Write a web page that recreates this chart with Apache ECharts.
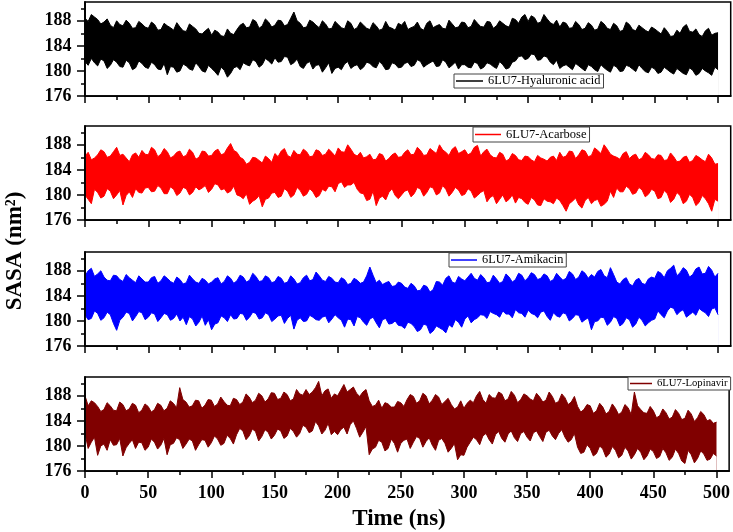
<!DOCTYPE html>
<html><head><meta charset="utf-8">
<script src="https://cdn.jsdelivr.net/npm/echarts@6/dist/echarts.min.js"></script>
<style>html,body{margin:0;padding:0;background:#fff}#c{width:733px;height:532px}</style>
</head><body><div id="c"></div><script>
// envelope samples: main arrays at 0,5,...,500 ns; "Mid" arrays at 2.5,7.5,...,497.5 ns
const timeStep = 5;
const xTickLabels = [0,50,100,150,200,250,300,350,400,450,500];
const xMinorTicks = [25,75,125,175,225,275,325,375,425,475];
const yTickLabels = [176,180,184,188];
const yMinorTicks = [178,182,186,190];
const seriesNames = ['6LU7-Hyaluronic acid','6LU7-Acarbose','6LU7-Amikacin','6LU7-Lopinavir'];
const seriesColors = ['#000000','#ff0000','#0000ff','#800000'];

// ---- 6LU7-Hyaluronic acid (upper / lower envelope, nm^2)
const hiHA = [188.4,189.0,188.2,187.8,187.3,188.0,187.2,187.6,186.9,187.5,
186.8,187.4,186.6,187.2,186.5,187.0,186.3,187.1,186.0,186.4,
185.7,186.2,185.5,186.0,186.6,187.6,187.0,187.9,187.2,187.8,
187.3,188.0,187.4,189.4,187.6,187.0,187.8,186.9,187.5,186.8,
187.4,186.7,187.6,186.9,187.3,186.6,187.2,186.7,187.0,186.5,
187.3,186.6,187.1,186.8,187.6,186.9,187.4,186.7,187.5,187.0,
187.7,187.1,187.6,187.0,187.8,187.2,187.6,187.0,188.2,188.6,
187.9,188.5,187.8,188.3,187.4,187.0,187.6,186.9,187.4,186.8,
187.3,186.7,187.5,186.6,187.2,186.5,187.4,186.4,186.9,186.2,
186.7,185.9,186.3,185.6,186.0,187.4,186.2,185.8,186.4,185.7,
186.1];
const hiHAMid = [187.9,188.6,187.5,188.3,186.9,187.4,188.1,186.8,187.9,187.0,
187.8,186.5,187.6,186.9,187.7,186.4,187.5,186.7,185.9,186.8,
186.5,185.6,186.7,185.8,187.3,186.9,188.2,186.8,188.3,187.0,
188.1,187.2,188.4,188.0,186.9,188.1,187.3,188.0,186.7,187.9,
186.9,188.0,186.6,187.8,186.8,187.7,186.5,187.9,186.8,187.6,
187.9,186.9,187.8,186.5,188.0,187.2,186.8,188.1,186.9,187.8,
186.9,188.2,187.1,187.9,186.8,188.0,187.2,188.4,187.6,189.0,
188.8,187.6,189.0,187.7,188.1,187.8,186.8,187.9,186.6,187.7,
186.5,187.9,186.8,187.6,186.3,187.8,186.6,187.3,186.5,187.0,
186.3,186.9,185.5,186.5,187.0,186.3,186.7,185.5,186.8,186.0];
const loHA = [181.5,182.0,180.8,181.6,180.9,181.4,180.6,181.3,180.5,181.2,
180.4,181.0,180.2,179.4,180.6,180.0,180.8,180.1,180.7,179.8,
180.4,179.3,180.1,179.6,180.7,181.3,180.8,181.5,181.0,181.6,
182.1,181.5,182.2,181.3,180.7,181.2,180.3,181.0,180.5,179.6,
180.6,181.1,180.4,181.0,180.6,181.2,180.5,181.0,180.3,181.1,
180.6,181.4,180.9,181.5,181.0,181.6,180.8,181.4,180.9,180.3,
181.0,180.5,181.2,180.6,181.1,180.4,181.0,180.5,181.6,182.4,
182.0,182.6,181.8,182.2,181.0,180.4,181.0,180.2,180.8,180.0,
180.7,179.9,180.5,179.8,180.6,180.0,180.7,179.9,180.4,179.7,
180.3,179.8,180.2,179.5,180.0,179.4,180.1,179.6,180.0,179.3,
180.2];
const loHAMid = [180.9,181.3,181.9,180.4,181.8,180.7,181.7,180.2,181.6,180.6,
181.4,180.3,181.2,180.7,179.8,181.1,180.3,181.3,180.0,180.9,
179.9,180.6,179.0,180.5,180.2,181.0,181.8,180.6,182.0,181.1,
181.4,182.3,181.0,181.9,180.4,181.5,180.9,179.8,181.3,180.4,
180.2,181.5,180.8,180.2,181.4,180.7,181.5,180.2,181.3,180.5,
181.2,180.7,181.8,180.6,181.3,180.7,181.8,180.5,181.4,181.0,
180.6,181.4,180.3,181.3,180.7,181.5,180.3,181.4,182.3,181.8,
182.7,181.7,182.4,181.4,181.7,180.8,180.6,181.2,180.4,181.0,
180.2,181.0,180.1,180.9,179.9,180.9,180.3,181.0,179.9,180.6,
179.6,180.6,179.8,180.4,179.6,180.5,179.3,180.4,179.7,180.6];

// ---- 6LU7-Acarbose
const hiAC = [186.2,185.6,186.4,186.9,186.2,187.6,186.5,185.3,186.7,187.1,
186.4,187.2,186.5,186.9,186.2,187.0,186.3,186.8,186.0,186.9,
186.3,187.3,186.6,188.2,186.8,185.7,185.2,185.9,185.1,185.8,
186.6,187.0,186.3,187.1,186.4,186.9,186.2,187.0,186.5,186.8,
187.5,186.8,187.3,186.2,185.9,186.5,185.7,186.4,185.8,186.7,
186.1,187.2,186.5,187.1,186.4,187.0,188.0,186.8,187.3,186.6,
187.2,186.7,187.9,186.9,186.4,185.9,186.5,185.7,186.3,185.5,
186.1,185.3,185.9,185.4,186.2,186.8,186.2,186.9,186.4,187.0,
186.3,187.1,188.0,186.5,186.0,186.6,185.8,186.5,185.9,186.4,
185.7,186.3,185.6,186.1,185.4,186.2,185.5,186.0,185.3,185.9,
185.0];
const hiACMid = [186.8,185.9,187.2,186.0,186.9,186.3,185.9,186.4,186.0,186.5,
187.6,186.1,187.4,185.9,186.8,186.1,187.3,185.7,187.0,186.2,
187.0,186.4,187.5,187.1,186.0,184.9,186.0,185.5,186.2,185.2,
186.1,187.4,186.0,186.5,187.3,186.1,187.2,186.3,187.3,186.2,
186.9,188.0,186.5,186.8,186.1,185.6,186.6,185.4,186.4,186.0,
186.8,186.4,187.6,186.3,187.4,186.6,187.2,186.3,187.7,186.9,
186.4,187.6,186.2,187.3,186.0,186.8,185.4,186.6,185.6,186.2,
185.6,186.3,185.7,186.0,185.5,186.0,187.0,185.8,187.2,186.1,
187.5,186.6,187.3,186.2,185.7,186.9,186.3,185.6,186.8,185.8,
186.4,185.5,186.7,185.3,186.0,185.2,186.3,185.6,186.5,184.9];
const loAC = [180.0,178.6,180.4,179.8,180.6,180.0,178.4,180.5,181.0,180.3,
181.2,180.6,181.1,180.2,180.9,180.3,181.0,180.4,180.8,181.5,
180.9,181.6,181.0,180.6,180.0,179.4,178.5,179.3,178.1,179.5,
180.4,179.8,180.6,180.0,180.7,180.1,180.5,179.9,180.6,181.3,
181.8,181.2,181.6,180.9,180.2,179.3,178.3,179.8,180.4,179.9,
180.0,180.8,180.2,180.9,180.4,181.1,180.3,180.9,180.4,180.8,
180.1,180.6,179.9,180.7,179.6,178.6,180.0,179.3,178.7,179.4,
178.5,179.2,178.3,179.0,178.6,179.1,177.4,179.0,178.4,179.1,
178.6,179.3,178.5,180.6,181.1,180.5,181.0,180.3,180.8,180.1,
180.6,179.6,180.2,179.3,179.9,179.0,179.6,178.8,179.4,177.4,
179.0];
const loACMid = [179.3,180.9,179.5,181.0,179.4,180.7,179.9,179.6,180.4,181.1,
180.5,181.5,180.2,181.3,179.9,181.2,180.0,181.3,181.1,180.4,
181.8,180.8,180.3,181.4,179.8,180.2,179.0,179.9,179.3,180.3,
179.6,181.0,179.6,181.2,179.8,181.0,179.6,180.9,181.4,180.5,
182.1,181.6,182.0,180.3,179.1,180.6,179.5,179.2,181.0,179.4,
180.6,179.7,181.2,179.8,181.3,180.0,181.5,179.8,181.2,179.9,
181.0,179.5,180.4,178.9,179.9,179.3,178.9,180.0,179.6,178.8,
179.6,178.4,179.4,178.9,179.5,178.3,178.6,179.5,177.9,179.6,
179.1,178.2,179.0,179.6,180.5,181.4,180.1,181.2,179.7,180.9,
179.4,180.7,178.8,180.4,178.6,180.1,178.3,179.9,178.6,179.3];

// ---- 6LU7-Amikacin
const hiAM = [187.2,188.4,187.5,187.0,186.4,187.2,186.3,186.9,186.1,186.7,
186.2,187.1,186.4,186.8,186.0,186.6,186.1,186.7,186.0,186.5,
186.2,186.9,186.3,186.8,186.4,187.0,186.5,187.1,186.4,186.9,
186.3,186.8,186.2,186.7,186.1,187.3,186.6,187.2,186.3,186.8,
186.1,186.6,186.0,186.5,186.2,188.6,186.1,185.8,186.3,185.6,
186.0,185.2,185.6,184.9,185.5,185.0,186.2,186.8,186.2,187.1,
186.4,187.6,186.5,186.9,186.2,186.7,186.3,187.0,186.6,187.3,
186.9,187.4,186.8,187.2,186.6,187.0,186.8,187.5,187.0,187.6,
187.4,187.9,187.2,188.5,186.2,186.6,185.9,186.5,186.0,186.7,
186.8,187.6,188.0,188.9,187.7,188.1,187.4,188.6,187.6,188.1,
187.6];
const hiAMMid = [188.0,187.1,188.0,186.5,187.3,186.6,187.4,186.5,187.2,186.2,
186.9,186.0,187.2,186.3,187.0,185.9,187.3,186.2,186.8,185.9,
186.7,185.9,187.2,186.0,187.3,186.2,187.6,186.3,187.2,186.1,
187.1,186.0,187.2,185.9,186.9,186.4,187.8,186.5,187.1,186.2,
186.9,185.8,186.8,186.0,187.2,187.3,186.5,186.1,185.5,186.2,
185.4,186.0,184.8,185.7,184.6,186.3,185.7,187.2,186.0,186.7,
187.0,186.8,187.4,186.1,187.3,186.0,187.5,186.2,187.6,186.4,
187.7,186.6,187.5,186.3,187.6,186.5,187.9,186.6,188.0,186.8,
187.0,188.2,186.9,187.4,185.9,186.9,185.6,186.8,185.8,187.0,
187.9,186.9,188.4,187.2,188.5,187.0,188.3,187.5,188.7,187.0];
const loAM = [181.0,180.4,181.2,180.5,181.0,178.5,180.6,181.2,180.7,181.3,
180.6,181.1,180.5,181.0,180.4,180.0,179.4,180.3,179.8,179.3,
178.6,179.7,180.5,181.0,180.4,181.1,180.6,181.2,180.5,181.0,
180.3,180.9,180.4,178.7,180.5,180.0,180.6,180.1,180.8,180.3,
180.5,179.0,180.2,180.7,179.8,180.3,179.7,180.2,179.5,180.0,
179.2,179.8,179.1,178.6,179.3,178.4,178.9,178.1,179.0,179.8,
180.3,179.7,180.5,180.9,181.5,181.0,181.6,181.1,181.8,181.2,
181.7,181.0,181.4,180.7,181.3,180.6,181.1,180.4,180.9,180.2,
178.6,180.0,180.5,179.8,180.4,179.6,180.2,179.5,180.1,179.7,
180.3,181.0,181.6,182.0,181.5,180.6,181.4,182.0,181.3,181.9,
181.0];
const loAMMid = [180.2,181.6,180.1,181.4,179.6,180.1,181.4,180.0,181.5,180.2,
181.3,179.9,181.2,180.1,181.1,180.6,180.7,179.2,180.8,180.2,
179.5,180.8,179.9,180.3,181.2,180.1,181.4,180.3,181.3,179.9,
180.8,179.6,180.9,180.1,179.9,180.9,180.2,180.6,179.7,181.0,
180.1,180.3,179.2,180.5,179.3,180.6,178.9,180.4,179.6,179.3,
178.8,179.6,178.3,179.5,178.0,179.2,178.6,179.4,180.2,179.0,
180.8,180.2,181.0,180.4,181.2,180.6,181.1,180.5,181.3,180.6,
181.2,180.5,181.6,180.1,180.8,181.3,180.0,181.0,179.8,180.5,
179.9,180.6,179.3,180.7,179.2,180.5,179.0,180.6,179.2,180.1,
181.6,180.5,182.2,181.0,181.8,181.0,180.9,181.6,180.7,182.1];

// ---- 6LU7-Lopinavir
const hiLP = [188.0,187.2,186.3,185.8,186.4,185.6,186.6,185.9,186.5,185.7,
186.3,185.8,186.5,186.0,186.8,189.3,187.0,186.4,187.2,186.5,
187.3,186.7,187.1,186.4,187.4,187.0,187.8,187.3,188.0,187.5,
188.4,187.6,188.2,187.5,188.3,189.0,188.6,190.3,188.8,187.6,
188.0,189.8,189.0,188.4,188.6,187.2,186.5,186.0,186.7,186.2,
186.9,187.4,187.9,187.2,188.0,187.3,187.8,187.1,186.6,186.2,
186.0,187.3,188.0,187.4,188.2,187.6,188.3,187.5,188.1,187.4,
188.0,187.2,187.8,187.3,187.9,187.1,187.7,187.0,186.3,185.8,
186.4,185.6,186.2,185.5,186.0,185.4,186.1,188.6,185.8,185.2,
185.6,184.8,185.3,184.6,185.2,184.4,185.1,184.5,185.0,184.2,
183.8];
const hiLPMid = [186.4,186.9,185.5,186.9,185.7,187.0,185.6,186.8,185.3,186.7,
185.4,186.8,185.6,187.2,186.1,187.4,186.2,187.3,186.0,187.4,
186.3,187.8,186.5,187.6,186.6,188.3,186.9,188.4,187.0,188.5,
187.4,188.6,187.2,189.0,188.1,188.2,189.3,188.0,189.1,188.3,
188.9,188.6,189.4,187.9,189.0,186.3,187.3,186.9,186.2,187.1,
186.3,188.2,186.8,188.4,186.7,188.2,186.6,187.6,185.9,187.2,
186.8,186.9,188.7,186.8,187.7,188.6,187.2,188.7,186.9,188.3,
187.5,188.4,187.0,188.6,186.8,188.3,186.6,187.9,185.4,186.6,
185.2,186.8,185.1,186.7,185.0,186.6,185.0,186.4,185.3,186.3,
184.5,185.9,184.3,185.8,184.2,185.7,183.9,185.5,184.0,183.6];
const loLP = [182.0,180.6,178.5,180.3,181.0,180.2,178.4,180.4,179.6,180.5,
179.8,180.6,180.1,178.6,180.4,181.0,180.3,180.8,180.2,180.9,
180.5,181.1,180.4,181.2,181.8,182.4,181.6,182.3,181.5,182.2,
181.7,182.4,181.6,182.3,182.0,183.0,182.4,183.2,182.5,181.8,
181.8,183.0,183.4,182.8,182.2,178.6,179.8,180.6,179.6,180.4,
180.4,181.1,180.6,181.2,180.7,180.1,180.9,180.4,179.6,177.8,
178.5,180.6,181.0,181.6,181.0,181.8,181.2,181.9,181.3,182.0,
181.4,182.1,181.5,182.2,181.6,182.0,181.4,181.0,179.8,179.0,
179.6,178.8,179.5,178.7,179.3,178.5,179.2,178.6,179.0,178.4,
179.1,178.3,178.9,178.2,178.8,177.2,178.6,178.0,178.7,177.9,
178.4];
const loLPMid = [179.6,181.4,180.0,179.3,180.1,181.2,179.7,181.0,180.6,179.3,
181.1,179.5,181.2,180.2,181.3,179.6,181.1,179.3,181.0,179.8,
181.6,180.1,181.7,180.3,182.8,181.0,182.7,180.8,182.6,181.1,
182.7,181.2,182.8,181.4,183.3,182.1,183.9,181.9,183.6,182.3,
182.6,181.9,184.0,181.4,183.1,179.5,180.9,179.2,181.1,179.0,
180.9,179.6,181.5,179.8,181.3,179.3,181.2,179.0,180.4,178.6,
179.8,181.4,180.2,182.0,180.3,182.3,180.6,182.4,180.7,182.3,
180.8,182.4,180.7,182.5,181.0,182.6,180.6,182.0,178.8,180.2,
178.4,180.0,178.2,179.9,178.1,179.8,177.9,179.6,177.8,179.5,
178.0,179.6,177.7,179.5,177.6,179.3,177.3,179.2,177.7,178.8];

const highs = [[hiHA, hiHAMid], [hiAC, hiACMid], [hiAM, hiAMMid], [hiLP, hiLPMid]];
const lows = [[loHA, loHAMid], [loAC, loACMid], [loAM, loAMMid], [loLP, loLPMid]];

// merge main samples (t = 5k) and mid samples (t = 5k + 2.5) into one time-ordered list
function pairs(main, mid) {
  const out = [];
  main.forEach((v, k) => {
    out.push([k * timeStep, v]);
    if (k < mid.length) out.push([k * timeStep + timeStep / 2, mid[k]]);
  });
  return out;
}

const FONT = "'Liberation Serif','Times New Roman',serif";
const gridTops = [2, 126, 252, 377];
const legendPos = [
  {left: 454, top: 74, fontSize: 12.4, itemWidth: 27},
  {left: 473, top: 127, fontSize: 12.5, itemWidth: 26},
  {left: 449, top: 253, fontSize: 12.3, itemWidth: 26},
  {left: 628, top: 377, fontSize: 10.7, itemWidth: 22}
];

const blackLine = {color: '#000', width: 1.5};
const grid = [], xAxis = [], yAxis = [], series = [], legend = [];
gridTops.forEach((top, i) => {
  grid.push({left: 85, right: 2.3, top: top, height: 94, show: true,
    borderColor: '#000', borderWidth: 1.5, backgroundColor: 'transparent'});
  xAxis.push({gridIndex: i, type: 'value', min: 0, max: 510, position: 'bottom', z: 10,
    axisLine: {show: true, onZero: false, lineStyle: blackLine},
    axisTick: {show: true, customValues: xTickLabels, length: 7, lineStyle: blackLine},
    axisLabel: {show: i === 3, customValues: xTickLabels, color: '#000', fontWeight: 'bold',
      fontSize: 18, fontFamily: FONT, margin: 13},
    splitLine: {show: false}});
  xAxis.push({gridIndex: i, type: 'value', min: 0, max: 510, position: 'bottom', z: 10,
    axisLine: {show: true, onZero: false, lineStyle: blackLine},
    axisTick: {show: true, customValues: xMinorTicks, length: 4, lineStyle: blackLine},
    axisLabel: {show: false}, splitLine: {show: false}});
  yAxis.push({gridIndex: i, type: 'value', min: 176, max: 191, position: 'left', z: 10,
    axisLine: {show: true, onZero: false, lineStyle: blackLine},
    axisTick: {show: true, customValues: yTickLabels, length: 8, lineStyle: blackLine},
    axisLabel: {show: true, customValues: yTickLabels, color: '#000', fontWeight: 'bold',
      fontSize: 18, fontFamily: FONT, margin: 13.5},
    splitLine: {show: false}});
  yAxis.push({gridIndex: i, type: 'value', min: 176, max: 191, position: 'left', z: 10,
    axisLine: {show: true, onZero: false, lineStyle: blackLine},
    axisTick: {show: true, customValues: yMinorTicks, length: 4, lineStyle: blackLine},
    axisLabel: {show: false}, splitLine: {show: false}});
  const c = seriesColors[i];
  // upper envelope, filled down to the axis
  series.push({type: 'line', name: seriesNames[i], xAxisIndex: 2 * i, yAxisIndex: 2 * i,
    symbol: 'none', silent: true, z: 2,
    data: pairs(highs[i][0], highs[i][1]),
    lineStyle: {color: c, width: 1}, itemStyle: {color: c},
    areaStyle: {color: c, opacity: 1, origin: 'start'}});
  // lower envelope, white below it
  series.push({type: 'line', name: 'lower' + i, xAxisIndex: 2 * i, yAxisIndex: 2 * i,
    symbol: 'none', silent: true, z: 2,
    data: pairs(lows[i][0], lows[i][1]),
    lineStyle: {color: c, width: 1}, itemStyle: {color: c},
    areaStyle: {color: '#ffffff', opacity: 1, origin: 'start'}});
  const lp = legendPos[i];
  legend.push({data: [{name: seriesNames[i], icon: 'rect'}], left: lp.left, top: lp.top,
    orient: 'horizontal', itemWidth: lp.itemWidth, itemHeight: 1.5, padding: [1, 3, 1, 2],
    borderColor: '#444', borderWidth: 1, backgroundColor: '#fff', selectedMode: false, z: 12,
    textStyle: {fontFamily: FONT, fontSize: lp.fontSize, color: '#000'}});
});

const chart = echarts.init(document.getElementById('c'), null, {renderer: 'canvas'});
chart.setOption({
  animation: false,
  backgroundColor: '#fff',
  grid, xAxis, yAxis, series, legend,
  graphic: [
    {type: 'text', x: 399, y: 519, style: {text: 'Time (ns)', fontFamily: FONT, fontWeight: 'bold',
      fontSize: 23, fill: '#000', align: 'center', verticalAlign: 'middle'}},
    {type: 'text', x: 15, y: 251, rotation: Math.PI / 2, style: {text: 'SASA (nm²)', fontFamily: FONT,
      fontWeight: 'bold', fontSize: 23, fill: '#000', align: 'center', verticalAlign: 'middle'}}
  ]
});
</script></body></html>
